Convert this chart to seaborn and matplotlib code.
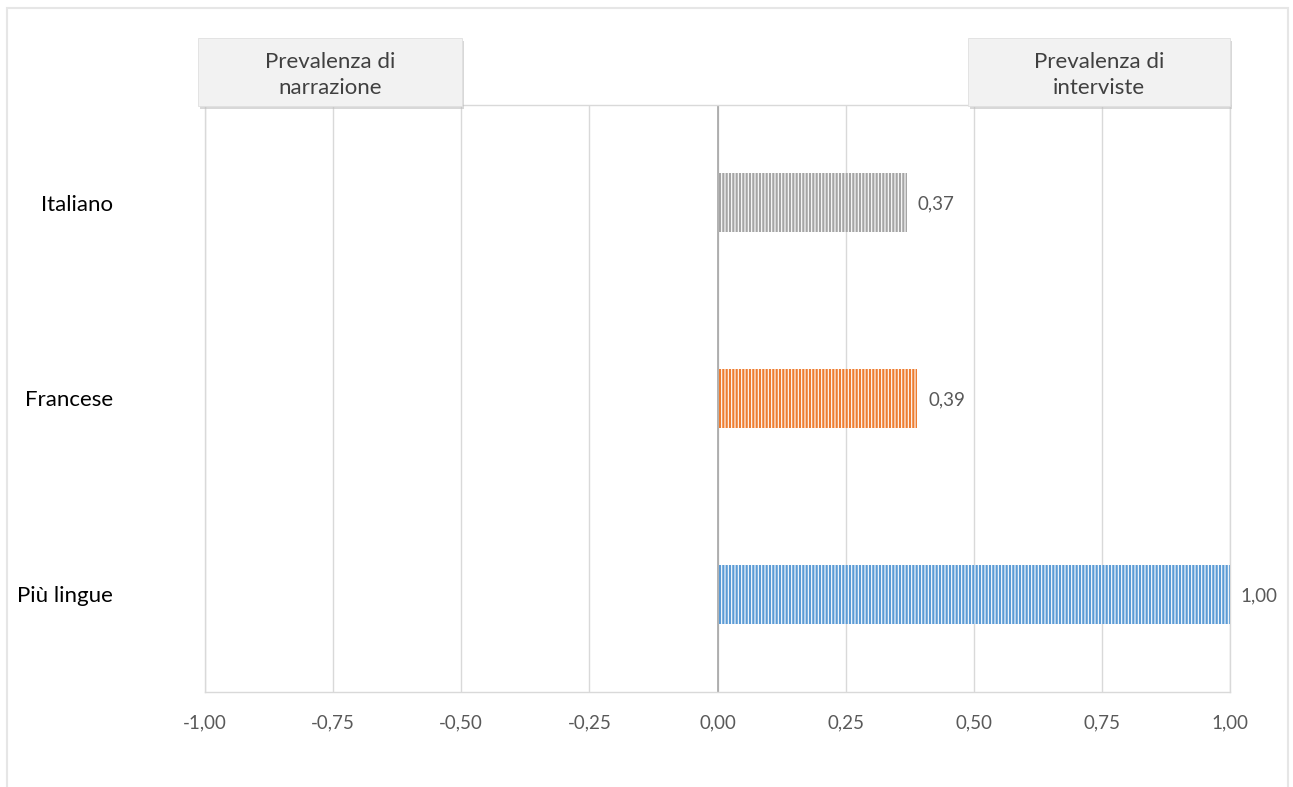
import matplotlib
matplotlib.use("Agg")
import matplotlib.pyplot as plt
import seaborn as sns
import pandas as pd
from matplotlib.patches import Rectangle

categories = ["Italiano", "Francese", "Più lingue"]
values = [0.37, 0.39, 1.00]
value_labels = ["0,37", "0,39", "1,00"]
colors = ["#a5a5a5", "#ed7d31", "#5b9bd5"]
xticks = [-1.0, -0.75, -0.5, -0.25, 0.0, 0.25, 0.5, 0.75, 1.0]
xtick_labels = ["-1,00", "-0,75", "-0,50", "-0,25", "0,00", "0,25", "0,50", "0,75", "1,00"]
box_left_text = "Prevalenza di\nnarrazione"
box_right_text = "Prevalenza di\ninterviste"

sns.set_theme(style="white")
plt.rcParams['font.family'] = ['Lato', 'DejaVu Sans']
plt.rcParams['hatch.linewidth'] = 0.8

df = pd.DataFrame({"cat": categories, "val": values})

W, H = 1293, 787
fig = plt.figure(figsize=(W / 100, H / 100), dpi=100)
ax = fig.add_axes([205 / W, 1 - 692 / H, (1230 - 205) / W, (692 - 105) / H])

sns.barplot(data=df, y="cat", x="val", hue="cat", palette=colors, orient="h",
            width=0.3, legend=False, ax=ax, saturation=1)

for p in ax.patches:
    p.set_hatch("|||||")
    p.set_edgecolor("white")
    p.set_linewidth(0)

ax.set_xlim(-1, 1)
ax.set_ylim(2.5, -0.5)
ax.set_xticks(xticks)
ax.set_xticklabels(xtick_labels, color="#595959", fontsize=13.5)
ax.set_yticks(range(len(categories)))
ax.set_yticklabels(categories, color="#000000", fontsize=16)
for t in ax.get_yticklabels():
    t.set_va("center_baseline")
ax.tick_params(axis="x", length=0, pad=16)
ax.tick_params(axis="y", length=0, pad=66)
ax.set_xlabel("")
ax.set_ylabel("")
ax.grid(axis="x", color="#d9d9d9", linewidth=1)
ax.set_axisbelow(True)
for s in ax.spines.values():
    s.set_color("#d9d9d9")
    s.set_linewidth(1)
ax.axvline(0, color="#a6a6a6", linewidth=1.2, zorder=1)

for i, (v, lab) in enumerate(zip(values, value_labels)):
    ax.text(v + 0.021, i, lab, va="center_baseline", ha="left", color="#595959", fontsize=13.5)

# figure border
fig.patches.append(Rectangle((7 / W, -0.02), (1288 - 7) / W, 1 - 8 / H + 0.02,
                             transform=fig.transFigure, fill=False,
                             edgecolor="#e6e6e6", linewidth=1.5))

# header boxes
def box(x0, x1, txt):
    y0, y1 = 38, 106
    sh = Rectangle(((x0 + 2) / W, 1 - (y1 + 3) / H), (x1 - x0) / W, (y1 - y0) / H,
                   transform=fig.transFigure, facecolor="#bfbfbf", edgecolor="none",
                   alpha=0.6, zorder=5)
    r = Rectangle((x0 / W, 1 - y1 / H), (x1 - x0) / W, (y1 - y0) / H,
                  transform=fig.transFigure, facecolor="#f2f2f2", edgecolor="#e0e0e0",
                  linewidth=0.6, zorder=6)
    fig.patches.append(sh)
    fig.patches.append(r)
    fig.text((x0 + x1) / 2 / W, 1 - ((y0 + y1) / 2 + 3) / H, txt, ha="center", va="center",
             fontsize=16, color="#404040", zorder=7, linespacing=1.32)

box(198, 462, box_left_text)
box(968, 1230, box_right_text)

fig.savefig("out.png", dpi=100, facecolor="white")
